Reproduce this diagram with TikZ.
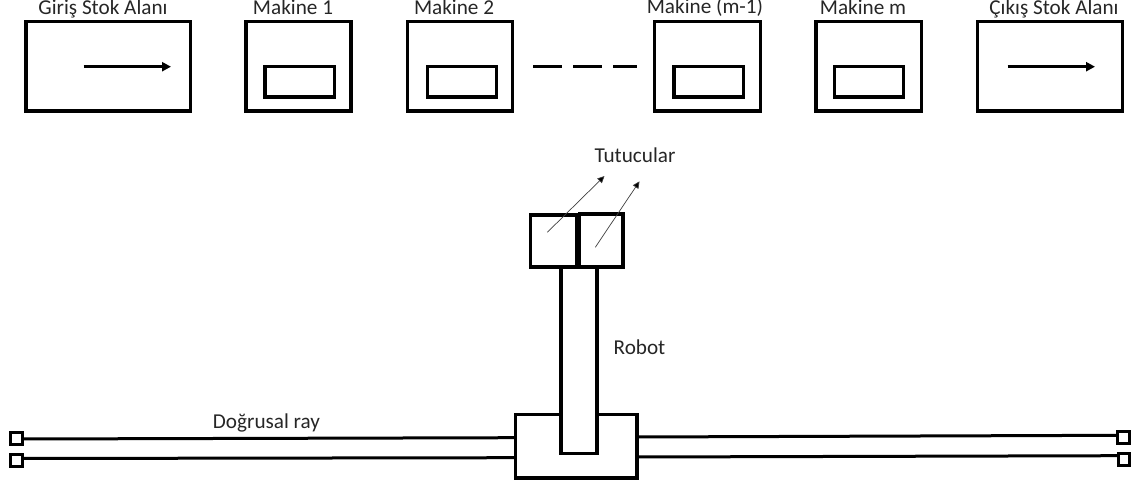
\documentclass[tikz,border=0pt]{standalone}
\usepackage{fontspec}
\setmainfont{Carlito}
\usetikzlibrary{arrows.meta}
\tikzset{
	kutu/.style={draw,line width=3.5pt,fill=white,inner sep=0pt,outer sep=0pt},
	ray/.style={draw,line width=3pt,fill=white,inner sep=0pt,outer sep=0pt,minimum width=11.5pt,minimum height=12pt},
	yazi/.style={anchor=base,inner sep=0pt,text=black!85},
	okkalin/.style={line width=2.6pt,-{Triangle[length=9pt,width=9pt]}},
	okince/.style={line width=0.7pt,draw=black!75,-{Triangle[length=7pt,width=6.5pt,fill=black]}}
}
\begin{document}
\begin{tikzpicture}[x=1pt,y=-1pt,font=\fontsize{21.2}{24}\selectfont]
	\useasboundingbox (0,0)rectangle(1140,486);
	% stok alanlari
	\node[kutu,minimum width=164.5pt,minimum height=89.5pt] (giris) at (108.25,66.25) {};
	\node[kutu,minimum width=145pt,minimum height=89.5pt] (cikis) at (1050,66.25) {};
	\draw[okkalin] (83.5,66.7)coordinate(g1)--(171,66.7)coordinate(g2);
	\draw[okkalin] (1007.5,66.7)coordinate(c1)--(1095,66.7)coordinate(c2);
	% makineler
	\foreach \ad/\xk/\gk/\xo/\go in {mbir/298.5/105/299.75/69.5,miki/460/105/462/69,msonbir/707.5/106/708.75/69.5,mson/868.75/105.5/869/69}{
		\node[kutu,minimum width=\gk pt,minimum height=89.5pt] (\ad) at (\xk,66.25) {};
		\node[kutu,minimum width=\go pt,minimum height=30.5pt] (\ad-ic) at (\xo,81.75) {};
	}
	\node[yazi] (tgiris) at (103,15) {Giriş Stok Alanı};
	\node[yazi] (tmbir) at (293,15) {Makine 1};
	\node[yazi] (tmiki) at (454,15) {Makine 2};
	\node[yazi] (tmsonbir) at (705,14) {Makine (m-1)};
	\node[yazi] (tmson) at (863,15) {Makine m};
	\node[yazi] (tcikis) at (1054,15) {Çıkış Stok Alanı};
	% kesik cizgi
	\foreach \xa/\xb in {533/562,573/602,613/637}
	\draw[line width=3.5pt] (\xa,66.5)--(\xb,66.5);
	% ray
	\node[ray] (sol1) at (16.5,438.2) {};
	\node[ray] (sol2) at (16.5,460.5) {};
	\node[ray] (sag1) at (1123.5,437.3) {};
	\node[ray] (sag2) at (1124,459.2) {};
	\coordinate (tabanA) at (516,437.7);
	\coordinate (tabanB) at (516,457.7);
	\coordinate (tabanC) at (637,437);
	\coordinate (tabanD) at (637,457);
	\draw[line width=3pt] ([yshift=-0.8pt]sol1.east)--(tabanA) ([yshift=2pt]sol2.east)--(tabanB) (tabanC)--([yshift=2pt]sag1.west) (tabanD)--([yshift=3.5pt]sag2.west);
	% robot
	\node[kutu,minimum width=121.5pt,minimum height=63.5pt] (taban) at (576.25,446.25) {};
	\node[kutu,minimum width=46pt,minimum height=52pt] (tutucuA) at (553.3,241.2) {};
	\node[kutu,minimum width=43.5pt,minimum height=53pt] (tutucuB) at (601,240.5) {};
	\node[kutu,minimum width=36pt,minimum height=186pt] (kol) at (579,360.5) {};
	\draw[okince] (547.3,232.3)coordinate(o1)--(604.5,176)coordinate(o2);
	\draw[okince] (595.3,247.3)coordinate(o3)--(639.5,181.3)coordinate(o4);
	\node[yazi] (ttutucu) at (635,163) {Tutucular};
	\node[yazi] (trobot) at (639.5,354) {Robot};
	\node[yazi] (tray) at (266.5,428.3) {Doğrusal ray};
\end{tikzpicture}
\end{document}
